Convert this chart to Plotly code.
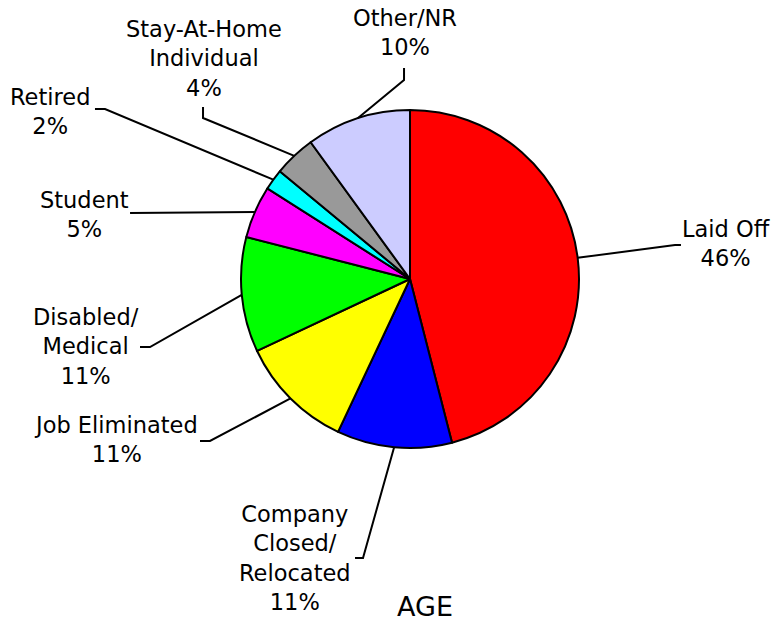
import math
import plotly.graph_objects as go

W, H = 774, 624

# data
labels = ["Laid Off", "Company<br>Closed/<br>Relocated", "Job Eliminated", "Disabled/<br>Medical",
          "Student", "Retired", "Stay-At-Home<br>Individual", "Other/NR"]
values = [46, 11, 11, 11, 5, 2, 4, 10]
colors = ["#FF0000", "#0000FF", "#FFFF00", "#00FF00", "#FF00FF", "#00FFFF", "#999999", "#CCCCFF"]

# layout (pixels): pie centre / radius, label centres, leader elbow + end
cx, cy, R = 410, 279, 169
label_pos = [(726, 244), (295, 558), (116, 439), (86, 346), (84, 214), (50, 111), (204, 58), (405, 32)]
leader = [
    [(675, 245), (681, 245)],
    [(363, 558), (355, 558)],
    [(210, 441), (200, 441)],
    [(150, 347), (140, 347)],
    [(130, 213)],
    [(105, 109), (95, 109)],
    [(203, 118), (203, 107)],
    [(404, 80), (404, 68)],
]
FONT = "DejaVu Sans"


def px(x, y):
    return x / W, 1 - y / H


fig = go.Figure(
    go.Pie(
        labels=labels,
        values=values,
        sort=False,
        direction="clockwise",
        rotation=0,
        marker=dict(colors=colors, line=dict(color="black", width=2)),
        textinfo="none",
        hoverinfo="label+percent",
        showlegend=False,
        domain=dict(x=[(cx - R) / W, (cx + R) / W], y=[1 - (cy + R) / H, 1 - (cy - R) / H]),
    )
)

total = sum(values)
cum = 0
for lab, v, (lx, ly), pts in zip(labels, values, label_pos, leader):
    mid = (cum + v / 2) / total * 2 * math.pi
    cum += v
    sx, sy = cx + R * math.sin(mid), cy - R * math.cos(mid)
    path_pts = [(sx, sy)] + pts
    path = "M " + " L ".join("%.4f %.4f" % px(x, y) for x, y in path_pts)
    fig.add_shape(type="path", path=path, xref="paper", yref="paper",
                  line=dict(color="black", width=2))
    ax, ay = px(lx, ly)
    fig.add_annotation(text=f"{lab}<br>{v}%", x=ax, y=ay, xref="paper", yref="paper",
                       xanchor="center", yanchor="middle", showarrow=False,
                       font=dict(family=FONT, size=22.5, color="black"))

ax, ay = px(425, 624)
fig.add_annotation(text="AGE", x=ax, y=ay, xref="paper", yref="paper", xanchor="center",
                   yanchor="bottom", showarrow=False, font=dict(family=FONT, size=27, color="black"))

fig.update_layout(
    width=W, height=H,
    margin=dict(l=0, r=0, t=0, b=0),
    paper_bgcolor="white",
    plot_bgcolor="white",
)

fig.write_html("out.html", config={"displayModeBar": False},
               post_script="document.body.style.margin='0';")
